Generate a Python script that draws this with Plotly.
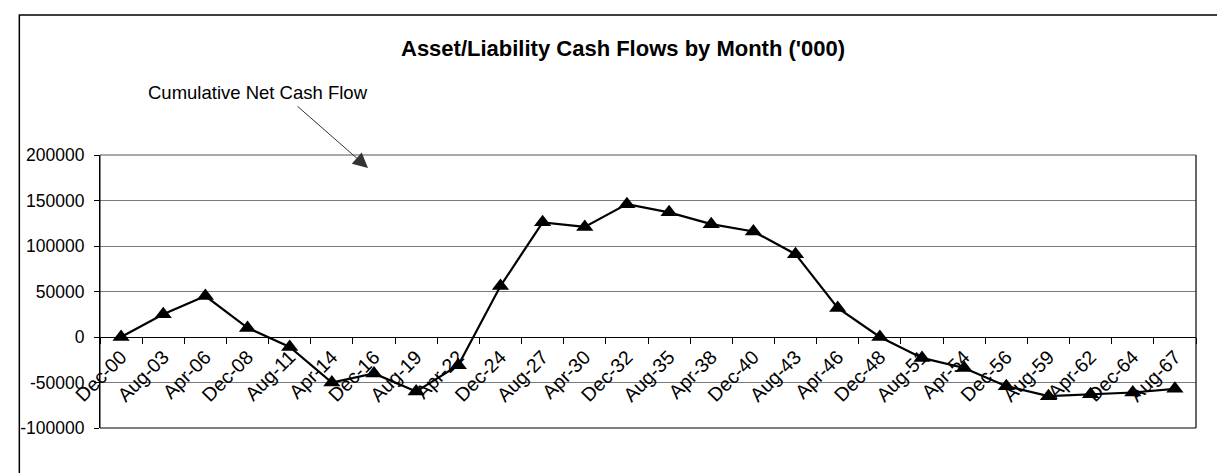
import plotly.graph_objects as go

months = ["Dec-00", "Aug-03", "Apr-06", "Dec-08", "Aug-11", "Apr-14", "Dec-16", "Aug-19",
          "Apr-22", "Dec-24", "Aug-27", "Apr-30", "Dec-32", "Aug-35", "Apr-38", "Dec-40",
          "Aug-43", "Apr-46", "Dec-48", "Aug-51", "Apr-54", "Dec-56", "Aug-59", "Apr-62",
          "Dec-64", "Aug-67"]
cumulative_net = [0, 25000, 45000, 10000, -11000, -50000, -40000, -60000,
                  -31000, 56000, 126000, 121000, 146000, 137000, 124000, 116000,
                  91000, 32000, 0, -23000, -34000, -54000, -65000, -63000,
                  -61000, -57000]
y_ticks = [-100000, -50000, 0, 50000, 100000, 150000, 200000]
y_ticktext = ["-100000", "-50000", "0", "50000", "100000", "150000", "200000"]

FONT = "Liberation Sans, Arial, sans-serif"

fig = go.Figure()
fig.add_trace(go.Scatter(
    x=months, y=cumulative_net, mode="lines+markers",
    line=dict(color="black", width=2.2),
    marker=dict(symbol="triangle-up", size=15, color="black"),
    showlegend=False,
))

fig.update_layout(
    width=1225, height=473,
    margin=dict(l=88, r=37, t=147, b=53),
    paper_bgcolor="white", plot_bgcolor="white",
    font=dict(family=FONT, color="black", size=17),
    xaxis=dict(
        type="category", range=[-0.5, len(months) - 0.5],
        anchor="free", position=1/3,
        showline=True, linecolor="black", linewidth=1,
        ticks="outside", tickson="boundaries", ticklen=6, tickcolor="black",
        tickangle=-45, tickfont=dict(size=19.5),
        showgrid=False, zeroline=False,
    ),
    yaxis=dict(
        range=[-100000, 200000], tickvals=y_ticks, ticktext=y_ticktext,
        showline=True, linecolor="black", linewidth=1,
        ticks="outside", ticklen=5, tickcolor="black", ticklabelstandoff=6,
        showgrid=True, gridcolor="#7a7a7a", gridwidth=1,
        zeroline=False, tickfont=dict(size=17.5),
    ),
    shapes=[
        dict(type="line", xref="paper", yref="paper", x0=0, x1=0, y0=0, y1=1,
             line=dict(color="black", width=1), layer="above"),
        dict(type="line", xref="paper", yref="paper", x0=1, x1=1, y0=0, y1=1,
             line=dict(color="black", width=1.2), layer="above"),
        dict(type="line", xref="paper", yref="paper", x0=0, x1=1, y0=0, y1=0,
             line=dict(color="black", width=1.2), layer="above"),
        dict(type="line", xref="paper", yref="paper", x0=0, x1=1, y0=1, y1=1,
             line=dict(color="#555555", width=1.2), layer="above"),
        dict(type="rect", xref="paper", yref="paper", x0=-0.0736, x1=1.0282,
             y0=-0.3, y1=1.513, line=dict(color="black", width=1.5)),
    ],
    annotations=[
        dict(text="<b>Asset/Liability Cash Flows by Month ('000)</b>", xref="paper", yref="paper",
             x=(613 - 88) / 1100, y=(420 - 40) / 273, showarrow=False,
             font=dict(size=22, family=FONT), xanchor="center", yanchor="middle"),
        dict(text="Cumulative Net Cash Flow", xref="paper", yref="paper",
             x=(247 - 88) / 1100, y=(420 - 85) / 273, showarrow=False,
             font=dict(size=18.5, family=FONT), xanchor="center", yanchor="middle"),
        dict(text="", xref="paper", yref="paper",
             x=(357 - 88) / 1100, y=(420 - 160) / 273, ax=-72, ay=-63,
             showarrow=True, arrowhead=2, arrowsize=3, arrowwidth=1,
             arrowcolor="#333333"),
    ],
)

fig.write_html("out.html")
